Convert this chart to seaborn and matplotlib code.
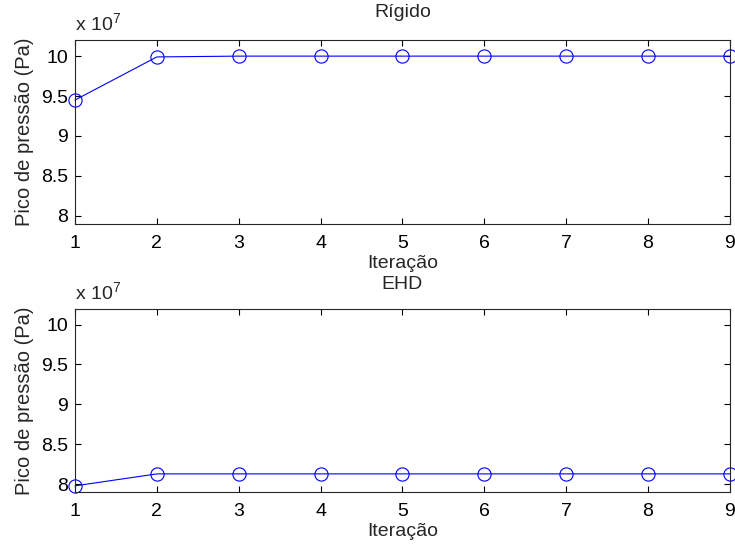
import matplotlib
matplotlib.use("Agg")
import matplotlib.pyplot as plt
import seaborn as sns
import pandas as pd

# dados (Pa)
iteracao = [1, 2, 3, 4, 5, 6, 7, 8, 9]
pico_rigido = [9.45e7, 9.99e7, 10.0e7, 10.0e7, 10.0e7, 10.0e7, 10.0e7, 10.0e7, 10.0e7]
pico_ehd = [7.98e7, 8.13e7, 8.13e7, 8.13e7, 8.13e7, 8.13e7, 8.13e7, 8.13e7, 8.13e7]
titulos = ["Rígido", "EHD"]
pads = [17, 14]

sns.set_style("ticks")
plt.rcParams['font.family'] = ['Liberation Sans', 'DejaVu Sans']
plt.rcParams['mathtext.fontset'] = 'custom'
plt.rcParams['mathtext.rm'] = 'Liberation Sans'
plt.rcParams['xtick.direction'] = 'in'
plt.rcParams['ytick.direction'] = 'in'
fs = 14

fig = plt.figure(figsize=(7.35, 5.5), dpi=100)
ax1 = fig.add_axes([0.102, 0.593, 0.891, 0.334])
ax2 = fig.add_axes([0.102, 0.105, 0.891, 0.334])

for ax, vals, tit, pd_ in zip([ax1, ax2], [pico_rigido, pico_ehd], titulos, pads):
    df = pd.DataFrame({'it': iteracao, 'p': [v / 1e7 for v in vals]})
    sns.lineplot(data=df, x='it', y='p', ax=ax, color='blue', linewidth=0.8,
                 marker='o', markersize=9.5, markerfacecolor='none',
                 markeredgecolor='blue', markeredgewidth=0.8, clip_on=False)
    ax.set_xlim(1, 9)
    ax.set_ylim(7.9, 10.2)
    ax.set_xticks(iteracao)
    ax.set_yticks([8, 8.5, 9, 9.5, 10])
    ax.set_yticklabels(['8', '8.5', '9', '9.5', '10'])
    ax.tick_params(top=True, right=True, length=4, width=0.8, labelsize=fs,
                   colors='black', pad=5)
    ax.tick_params(axis='x', pad=8)
    for s in ax.spines.values():
        s.set_linewidth(0.8)
        s.set_visible(True)
    ax.set_xlabel('Iteração', fontsize=fs, labelpad=2)
    ax.set_ylabel('Pico de pressão (Pa)', fontsize=14.5, labelpad=5)
    ax.set_title(tit, fontsize=fs, pad=pd_)
    ax.text(0.0, 1.025, r'x 10$^{7}$', transform=ax.transAxes, fontsize=fs,
            ha='left', va='bottom')

fig.savefig('out.png', dpi=100)
